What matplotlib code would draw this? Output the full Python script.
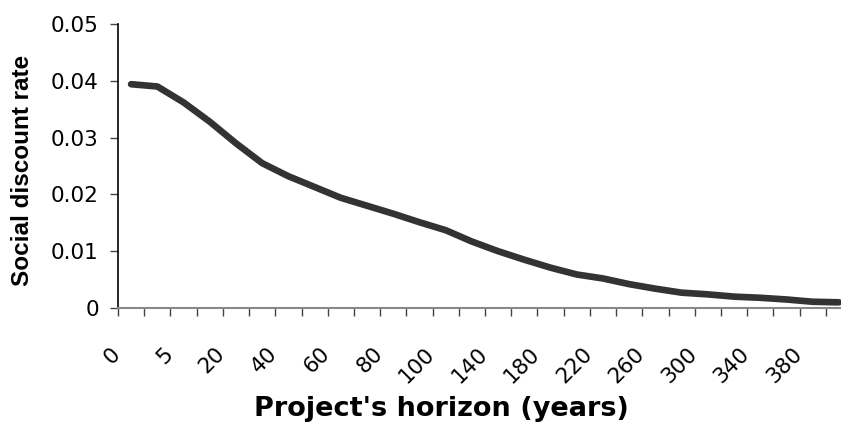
import matplotlib
matplotlib.use("Agg")
import matplotlib.pyplot as plt
import matplotlib.transforms as mtransforms
import numpy as np

# the source image is stretched sideways, DejaVu's wider glyphs follow that better
plt.rcParams['font.family'] = ['DejaVu Sans']

# project horizon categories (years) and the discount rate
horizon = [0, 1, 5, 10, 20, 30, 40, 50, 60, 70, 80, 90, 100, 120,
           140, 160, 180, 200, 220, 240, 260, 280, 300, 320, 340, 360, 380, 400]
rate = [0.0394, 0.0390, 0.0362, 0.0328, 0.0290, 0.0255, 0.0232, 0.0213,
        0.0194, 0.0180, 0.0166, 0.0151, 0.0137, 0.0117, 0.0100, 0.0085,
        0.0071, 0.0059, 0.0052, 0.0042, 0.0034, 0.0027, 0.0024, 0.0020,
        0.0018, 0.0015, 0.0011, 0.0010]
y_ticks = [0, 0.01, 0.02, 0.03, 0.04, 0.05]
y_labels = ['0', '0.01', '0.02', '0.03', '0.04', '0.05']

W, H = 841, 423
fig = plt.figure(figsize=(W / 100, H / 100), dpi=100)
# plot area runs a little past the right edge, as in the source image
left, right, top, bottom = 118, 852, 24, 308
ax = fig.add_axes([left / W, 1 - bottom / H, (right - left) / W, (bottom - top) / H])

x = np.arange(len(horizon))
ax.plot(x, rate, color='#333333', lw=4.8, solid_capstyle='round', solid_joinstyle='round')

ax.set_xlim(-0.5, len(horizon) - 0.5)
ax.set_ylim(0, 0.05)

# labels on every second category, tick marks between categories
ax.set_xticks(x[::2])
ax.set_xticklabels([str(h) for h in horizon[::2]], rotation=45, ha='right',
                   va='center', rotation_mode='anchor', fontsize=15.5)
ax.set_xticks(np.arange(len(horizon) + 1) - 0.5, minor=True)
ax.tick_params(axis='x', which='major', length=0, pad=28)
ax.tick_params(axis='x', which='minor', length=5.8, width=1, color='#444444')
shift = mtransforms.ScaledTranslation(-0.14, -0.04, fig.dpi_scale_trans)
for lab in ax.get_xticklabels():
    lab.set_transform(lab.get_transform() + shift)

ax.set_yticks(y_ticks)
ax.set_yticklabels(y_labels, fontsize=15.5)
ax.tick_params(axis='y', length=5.8, width=1, color='#444444', pad=8)

for s in ['top', 'right']:
    ax.spines[s].set_visible(False)
ax.spines['left'].set_color('black')
ax.spines['bottom'].set_color('#888888')
ax.spines['left'].set_linewidth(1.2)
ax.spines['bottom'].set_linewidth(1.5)

fig.text(23 / W, 1 - 170 / H, 'Social discount rate', rotation=90,
         ha='center', va='center', fontsize=17.5, fontweight='bold',
         family='Liberation Sans')
fig.text(441 / W, 1 - 409 / H, "Project's horizon (years)",
         ha='center', va='center', fontsize=19.5, fontweight='bold')

fig.savefig('out.png', dpi=100)
